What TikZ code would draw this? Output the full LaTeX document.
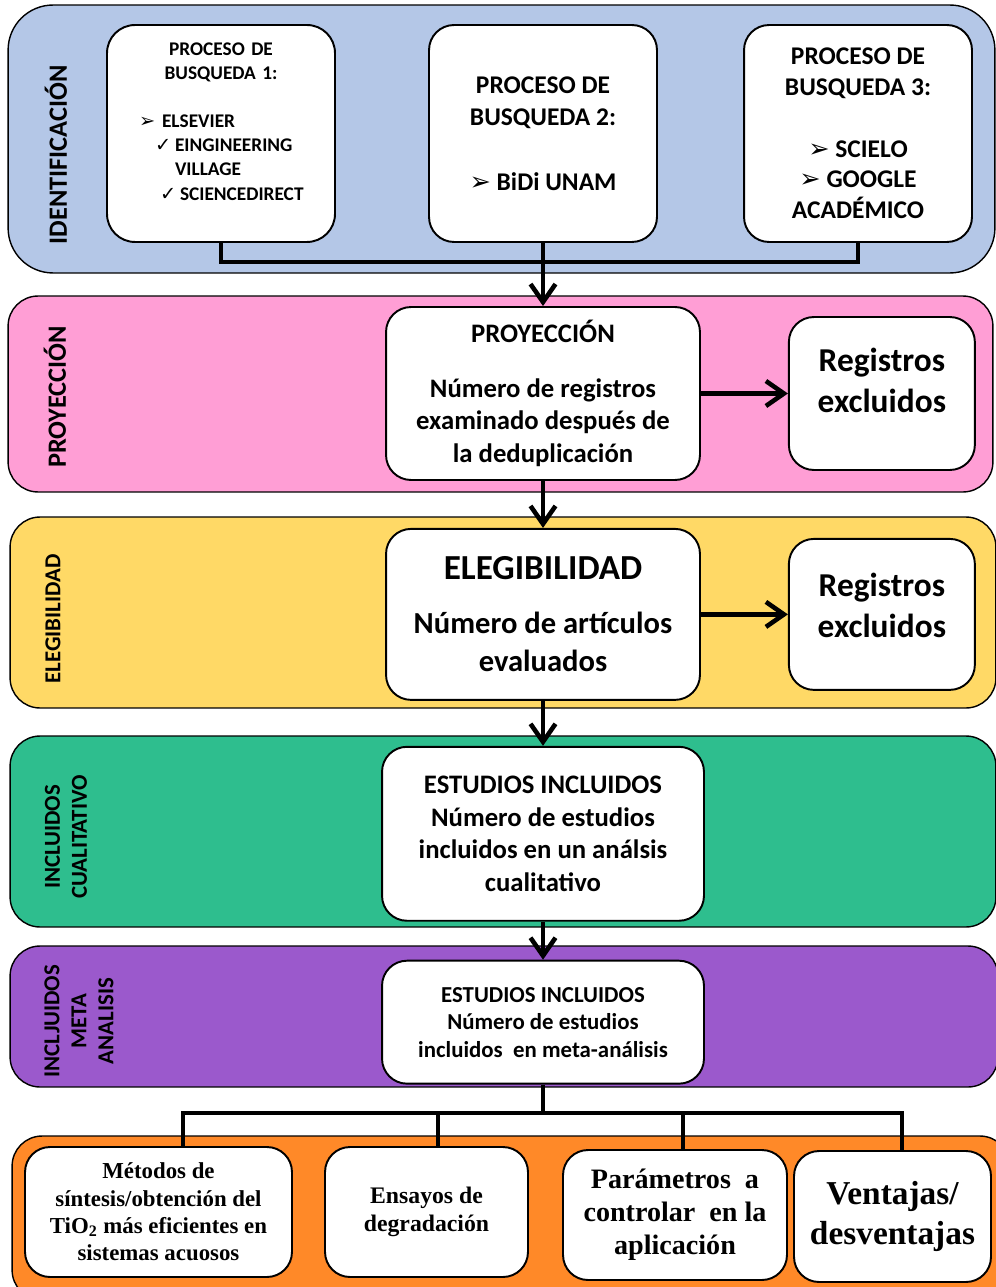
\documentclass[tikz,border=0pt]{standalone}
\usepackage{fontspec}
\setmainfont{Carlito}
\newfontfamily\timesfont{Liberation Serif}
\newfontfamily\dingfont{DejaVu Sans}
\usepackage{tikz}
\usetikzlibrary{
    arrows.meta,
    positioning
}
\definecolor{IdBlue}{RGB}{180,199,231}
\definecolor{ProyPink}{RGB}{255,158,213}
\definecolor{ElegYellow}{RGB}{255,217,102}
\definecolor{CualGreen}{RGB}{46,190,142}
\definecolor{MetaPurple}{RGB}{155,89,204}
\definecolor{ResOrange}{RGB}{255,137,40}
\tikzset{
  band/.style    = {draw, line width=0.8pt, rounded corners=0.6cm},
  box/.style     = {draw, fill=white, line width=1.1pt, rounded corners=0.5cm,
                    align=center, inner sep=0pt, font=\bfseries},
  vlabel/.style  = {rotate=90, align=center, font=\bfseries},
  conn/.style    = {line width=2.6pt, line join=miter},
  arr/.style     = {conn, -{Straight Barb[length=0.36cm, width=0.5cm]}}
}

\begin{document}
\begin{tikzpicture}[x=0.02cm, y=-0.02cm,
    bigtxt/.style={font=\bfseries\fontsize{14.5}{18.5}\selectfont},
    node distance=0.94cm and 1.74cm
]
\useasboundingbox (0,0) rectangle (996,1287);

% bandas de fondo
\node[band, fill=IdBlue, rounded corners=0.9cm, minimum width=19.74cm, minimum height=5.36cm]
      (bandId) at (501.5,139) {};
\node[band, fill=ProyPink, minimum width=19.7cm, minimum height=3.92cm]
      (bandProy) at (500.5,394) {};
\node[band, fill=ElegYellow, minimum width=19.72cm, minimum height=3.82cm]
      (bandEleg) at (503,612.5) {};
\node[band, fill=CualGreen, minimum width=19.72cm, minimum height=3.82cm]
      (bandCual) at (503,831.5) {};
\node[band, fill=MetaPurple, minimum width=19.76cm, minimum height=2.82cm]
      (bandMeta) at (504,1016.5) {};
\node[band, fill=ResOrange, minimum width=19.96cm, minimum height=3.28cm]
      (bandRes) at (511,1218) {};

% etiquetas verticales
\node[vlabel, font=\bfseries\fontsize{15}{18}\selectfont] (lId) at (56,155) {IDENTIFICACIÓN};
\node[vlabel, font=\bfseries\fontsize{15}{18}\selectfont] (lProy) at (55,397) {PROYECCIÓN};
\node[vlabel, font=\bfseries\fontsize{13}{15.4}\selectfont] (lEleg) at (53,619) {ELEGIBILIDAD};
\node[vlabel, font=\bfseries\fontsize{13}{15.4}\selectfont] (lCual) at (66,837)
      {INCLUIDOS\\CUALITATIVO};
\node[vlabel, font=\bfseries\fontsize{13}{15.4}\selectfont] (lMeta) at (79,1021)
      {INCLJUIDOS\\META\\ANALISIS};

% busquedas
\node[box, rounded corners=0.56cm, minimum width=4.56cm, minimum height=4.34cm,
      text width=4.56cm, align=left, font=\bfseries\fontsize{11}{13.7}\selectfont]
      (bus1) at (221,133.5)
      {\makebox[\linewidth]{PROCESO DE}\\
       \makebox[\linewidth]{BUSQUEDA 1:}\\
       \mbox{}\\
       \hspace*{0.64cm}\makebox[0.46cm][l]{\dingfont\mdseries ➢}ELSEVIER\\
       \hspace*{0.96cm}\makebox[0.40cm][l]{\dingfont\mdseries ✓}EINGINEERING\\
       \hspace*{1.36cm}VILLAGE\\
       \hspace*{1.06cm}\makebox[0.40cm][l]{\dingfont\mdseries ✓}SCIENCEDIRECT\\
       \mbox{}};
\node[box, bigtxt, minimum width=4.56cm, minimum height=4.34cm]
      (bus2) at (543,133.5)
      {PROCESO DE\\BUSQUEDA 2:\\[18.5pt]{\dingfont\mdseries ➢} BiDi UNAM};
\node[box, bigtxt, minimum width=4.56cm, minimum height=4.34cm,
      font=\bfseries\fontsize{14.5}{17.5}\selectfont]
      (bus3) at (858,133.5)
      {PROCESO DE\\BUSQUEDA 3:\\[17.5pt]{\dingfont\mdseries ➢} SCIELO\\
       {\dingfont\mdseries ➢} GOOGLE\\ACADÉMICO};

% proyeccion y elegibilidad
\node[box, minimum width=6.28cm, minimum height=3.46cm,
      font=\bfseries\fontsize{15.2}{18.5}\selectfont]
      (proy) at (543,393.5)
      {PROYECCIÓN\\[12.5pt]Número de registros\\examinado después de\\la deduplicación};
\node[box, right=of proy, minimum width=3.72cm, minimum height=3.06cm,
      font=\bfseries\fontsize{19}{23}\selectfont]
      (excl1) {Registros\\excluidos\\[-8pt]\mbox{}};

\node[box, below=of proy, minimum width=6.28cm, minimum height=3.42cm,
      font=\bfseries\fontsize{17.4}{21.6}\selectfont]
      (eleg) {{\fontsize{20}{21.6}\selectfont ELEGIBILIDAD}\\[9pt]Número de artículos\\evaluados};
\node[box, right=of eleg, minimum width=3.72cm, minimum height=3.02cm,
      font=\bfseries\fontsize{19}{23}\selectfont]
      (excl2) {Registros\\excluidos\\[-12.8pt]\mbox{}};

% estudios incluidos
\node[box, below=0.9cm of eleg, minimum width=6.44cm, minimum height=3.48cm,
      font=\bfseries\fontsize{15.2}{18.5}\selectfont]
      (cual) {ESTUDIOS INCLUIDOS\\Número de estudios\\incluidos en un análsis\\cualitativo};
\node[box, below=0.76cm of cual, minimum width=6.44cm, minimum height=2.46cm,
      font=\bfseries\fontsize{13}{15.6}\selectfont]
      (meta) {ESTUDIOS INCLUIDOS\\Número de estudios\\incluidos\ \ en meta-análisis};

% resultados
\node[box, minimum width=5.34cm, minimum height=2.6cm,
      font=\timesfont\bfseries\fontsize{13}{15.6}\selectfont]
      (res1) at (158.5,1212)
      {Métodos de\\síntesis/obtención del\\TiO\textsubscript{2} más eficientes en\\sistemas acuosos};
\node[box, minimum width=4.06cm, minimum height=2.6cm,
      font=\timesfont\bfseries\fontsize{13.5}{16}\selectfont]
      (res2) at (426.5,1212) {Ensayos de\\degradación};
\node[box, minimum width=4.48cm, minimum height=2.6cm,
      font=\timesfont\bfseries\fontsize{16}{18.8}\selectfont]
      (res3) at (675,1215) {Parámetros\ \ a\\controlar\ \ en la\\aplicación};
\node[box, minimum width=3.94cm, minimum height=2.62cm,
      font=\timesfont\bfseries\fontsize{19}{22.8}\selectfont]
      (res4) at (892.5,1216.5) {Ventajas/\\desventajas};

% conectores
\coordinate (jTop) at (543,262);
\coordinate (jBot) at (543,1113);

\draw[conn] (bus1.south) |- (jTop) -| (bus3.south);
\draw[arr] (bus2.south) -- (proy.north);
\draw[arr] (proy.east) -- (excl1.west);
\draw[arr] (eleg.east) -- (excl2.west);
\draw[arr] (proy.south) -- (eleg.north);
\draw[arr] (eleg.south) -- (cual.north);
\draw[arr] (cual.south) -- (meta.north);

\draw[conn] (meta.south) -- (jBot);
\draw[conn] ([xshift=0.49cm]res1.north) |- ([xshift=0.19cm]res4.north |- jBot)
            -- ([xshift=0.19cm]res4.north);
\draw[conn] ([xshift=0.23cm]res2.north) -- ([xshift=0.23cm]res2.north |- jBot);
\draw[conn] ([xshift=0.16cm]res3.north) -- ([xshift=0.16cm]res3.north |- jBot);
\end{tikzpicture}
\end{document}
